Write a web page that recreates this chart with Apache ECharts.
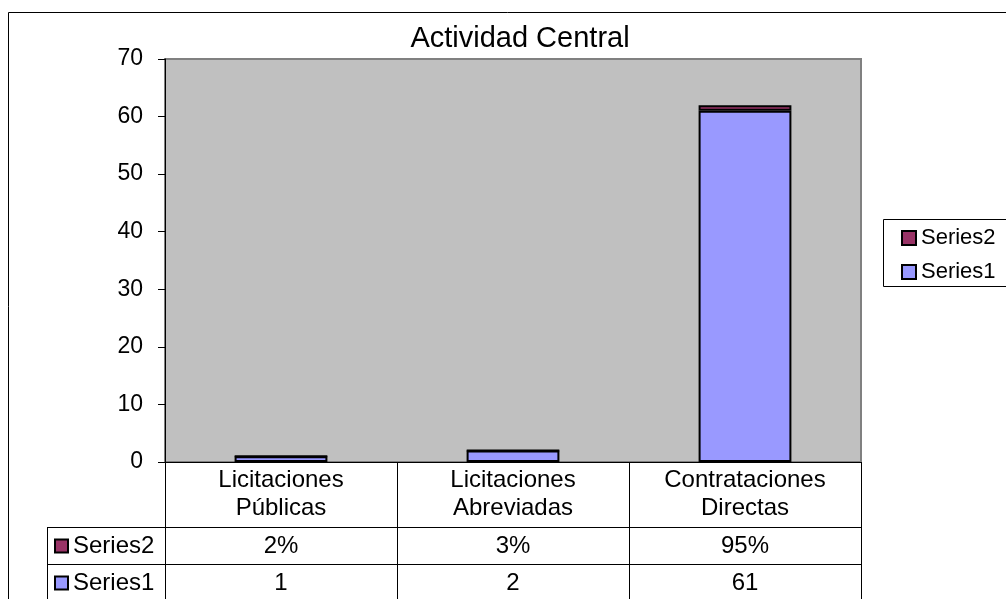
<!DOCTYPE html>
<html>
<head>
<meta charset="utf-8">
<script src="https://cdn.jsdelivr.net/npm/echarts@6/dist/echarts.min.js"></script>
<style>
  html, body { margin: 0; padding: 0; background: #fff; }
  #chart { width: 1006px; height: 599px; }
</style>
</head>
<body>
<div id="chart"></div>
<script>
// data
const categories = ["Licitaciones\nPúblicas", "Licitaciones\nAbreviadas", "Contrataciones\nDirectas"];
const series1 = [1, 2, 61];
const series2 = [0.02, 0.03, 0.95];
const seriesNames = ["Series2", "Series1"];
const colors = { Series1: "#9999FF", Series2: "#993366" };

const font = "Liberation Sans, Arial, sans-serif";
const grid = { left: 165, top: 59, width: 696, height: 403 };

const chart = echarts.init(document.getElementById("chart"));

const barStyle = function (c) {
	return { color: c, borderColor: "#000", borderWidth: 2 };
};

chart.setOption({
	animation: false,
	textStyle: { fontFamily: font },
	title: {
		text: "Actividad Central",
		left: 515,
		textAlign: "center",
		top: 19,
		textStyle: { fontSize: 29, fontWeight: "normal", color: "#000", fontFamily: font }
	},
	legend: {
		data: seriesNames,
		orient: "vertical",
		left: 883,
		top: 219,
		padding: [8, 10, 8, 18],
		itemGap: 12,
		itemWidth: 14,
		itemHeight: 14,
		icon: "rect",
		textStyle: { fontSize: 22, lineHeight: 22, color: "#000", fontFamily: font }
	},
	grid: {
		left: grid.left,
		top: grid.top,
		width: grid.width,
		height: grid.height,
		show: true,
		backgroundColor: "#C0C0C0",
		borderColor: "#808080",
		borderWidth: 2
	},
	xAxis: {
		type: "category",
		data: categories,
		axisTick: { show: false },
		axisLine: { lineStyle: { color: "#000", width: 1 } },
		axisLabel: {
			interval: 0,
			margin: 4,
			fontSize: 24,
			lineHeight: 28,
			color: "#000",
			fontFamily: font
		}
	},
	yAxis: {
		type: "value",
		min: 0,
		max: 70,
		interval: 10,
		splitLine: { show: false },
		axisLine: { show: true, lineStyle: { color: "#000", width: 1 } },
		axisTick: { show: true, length: 7, lineStyle: { color: "#000" } },
		axisLabel: { fontSize: 23, margin: 22, color: "#000", fontFamily: font }
	},
	series: [
		{
			name: "Series1",
			type: "bar",
			stack: "total",
			barWidth: "40%",
			data: series1,
			itemStyle: barStyle(colors.Series1)
		},
		{
			name: "Series2",
			type: "bar",
			stack: "total",
			barWidth: "40%",
			data: series2,
			itemStyle: barStyle(colors.Series2)
		}
	]
});

// data table under the plot, plus the outer frame and legend box
function buildTable() {
	const centers = categories.map(function (c, i) {
		return chart.convertToPixel({ xAxisIndex: 0 }, i);
	});
	const band = centers[1] - centers[0];
	const edges = [centers[0] - band / 2].concat(centers.map(function (c) { return c + band / 2; }));
	const axisY = grid.top + grid.height;
	const rowTops = [527, 564, 601];
	const keyLeft = 47;
	const line = { stroke: "#000", lineWidth: 1 };
	const els = [];

	els.push({
		type: "rect",
		shape: { x: 8.5, y: 12.5, width: 1100, height: 700 },
		style: { fill: "none", stroke: "#000", lineWidth: 1 },
		z: -10,
		silent: true
	});
	// legend frame runs past the right edge like the original
	els.push({
		type: "rect",
		shape: { x: 883.5, y: 219.5, width: 200, height: 67 },
		style: { fill: "none", stroke: "#000", lineWidth: 1 },
		silent: true
	});
	edges.forEach(function (x) {
		els.push({ type: "line", shape: { x1: Math.round(x) + 0.5, y1: axisY, x2: Math.round(x) + 0.5, y2: 610 }, style: line });
	});
	els.push({ type: "line", shape: { x1: keyLeft + 0.5, y1: rowTops[0], x2: keyLeft + 0.5, y2: 610 }, style: line });
	rowTops.forEach(function (y) {
		els.push({ type: "line", shape: { x1: keyLeft, y1: y + 0.5, x2: edges[edges.length - 1], y2: y + 0.5 }, style: line });
	});

	const rows = [
		{ name: "Series2", values: series2.map(function (v) { return Math.round(v * 100) + "%"; }) },
		{ name: "Series1", values: series1.map(String) }
	];
	rows.forEach(function (r, k) {
		const cy = (rowTops[k] + rowTops[k + 1]) / 2 + 1;
		els.push({
			type: "rect",
			shape: { x: 55, y: cy - 7, width: 13, height: 13 },
			style: { fill: colors[r.name], stroke: "#000", lineWidth: 2 }
		});
		els.push({
			type: "text",
			x: 73,
			y: cy,
			style: { text: r.name, fontSize: 24, fontFamily: font, fill: "#000", verticalAlign: "middle", align: "left" }
		});
		r.values.forEach(function (v, i) {
			els.push({
				type: "text",
				x: centers[i],
				y: cy,
				style: { text: v, fontSize: 24, fontFamily: font, fill: "#000", verticalAlign: "middle", align: "center" }
			});
		});
	});
	chart.setOption({ graphic: { elements: els } });
}
buildTable();
</script>
</body>
</html>
